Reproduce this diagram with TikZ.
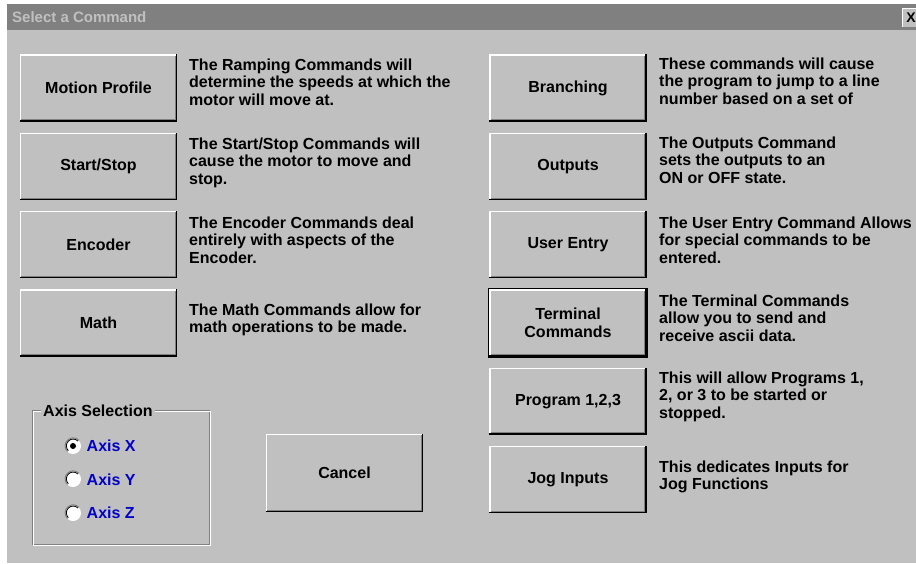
\documentclass[tikz,border=0pt]{standalone}
\usepackage{fontspec}
\setmainfont{Liberation Sans}

\definecolor{winface}{HTML}{C0C0C0}
\definecolor{winshadow}{HTML}{808080}
\definecolor{axisblue}{HTML}{0000C8}

\tikzset{
  btn/.style={fill=winface, minimum width=157pt, minimum height=67pt, inner sep=0pt,
    align=center, font=\fontsize{16}{18}\selectfont\bfseries},
  desc/.style={anchor=base west, inner sep=0pt, align=left,
    font=\fontsize{16}{17.5}\selectfont\bfseries},
  radio/.style={circle, fill=white, minimum size=16pt, inner sep=0pt},
  axislabel/.style={anchor=base west, inner sep=0pt, text=axisblue,
    font=\fontsize{16}{18}\selectfont\bfseries},
}

\begin{document}
\begin{tikzpicture}[x=1pt,y=-1pt,node distance=78.3pt]
    \useasboundingbox (0,0) rectangle (916,563);
    %% window
    \fill[white] (0,0) rectangle (916,563);
    \fill[winface] (7,4) rectangle (916,563);
    \fill[winshadow] (7,4) rectangle (916,30);
    \node[anchor=base west, inner sep=0pt, text=winface, font=\fontsize{15}{18}\selectfont\bfseries] (title) at (12,22) {Select a Command};
    \fill[winface] (902,8) rectangle (920,27);
    \draw[white] (902.5,27) -- (902.5,8.5) -- (920,8.5);
    \node[inner sep=0pt, font=\fontsize{14}{16}\selectfont\bfseries] (close) at (911,18) {X};

    %% left column
    \node[btn] (1) at (98.5,88) {Motion Profile};
    \node[btn,below of=1] (2) {Start/Stop};
    \node[btn,below of=2] (3) {Encoder};
    \node[btn,below of=3] (4) {Math};
    %% right column
    \node[btn] (5) at (568,88) {Branching};
    \node[btn,below of=5] (6) {Outputs};
    \node[btn,below of=6] (7) {User Entry};
    \node[btn,below of=7] (8) {Terminal\\Commands};
    \node[btn,below of=8] (9) {Program 1,2,3};
    \node[btn,below of=9] (10) {Jog Inputs};
    \node[btn,minimum height=78pt] (11) at (344.5,473) {Cancel};

    %% 3d edges
    \foreach \n in {1,...,11} {
      \draw[white, line width=1.5pt] ([xshift=.75pt]\n.south west) |- ([yshift=-.75pt]\n.north east);
      \draw[winshadow, line width=1pt] ([shift={(1.5pt,2pt)}]\n.south west) -| ([shift={(-2pt,-1.5pt)}]\n.north east);
      \draw[black, line width=1.5pt] ([yshift=.75pt]\n.south west) -| ([xshift=-.75pt]\n.north east);
    }
    %% default button
    \draw[black, line width=1pt] ([shift={(-.5pt,-.5pt)}]8.south west) rectangle ([shift={(.5pt,.5pt)}]8.north east);

    %% descriptions (base = last line)
    \node[desc] (d1) at (189,105) {The Ramping Commands will\\determine the speeds at which the\\motor will move at.};
    \node[desc] (d2) at (189,184) {The Start/Stop Commands will\\cause the motor to move and\\stop.};
    \node[desc] (d3) at (189,263) {The Encoder Commands deal\\entirely with aspects of the\\Encoder.};
    \node[desc] (d4) at (189,332.5) {The Math Commands allow for\\math operations to be made.};
    \node[desc] (d5) at (659,104) {These commands will cause\\the program to jump to a line\\number based on a set of};
    \node[desc] (d6) at (659,183) {The Outputs Command\\sets the outputs to an\\ON or OFF state.};
    \node[desc] (d7) at (659,263) {The User Entry Command Allows\\for special commands to be\\entered.};
    \node[desc] (d8) at (659,341) {The Terminal Commands\\allow you to send and\\receive ascii data.};
    \node[desc] (d9) at (659,418) {This will allow Programs 1,\\2, or 3 to be started or\\stopped.};
    \node[desc] (d10) at (659,489.5) {This dedicates Inputs for\\Jog Functions};

    %% axis selection
    \draw[winshadow] (32,410) rectangle (209,544);
    \draw[white] (33,411) rectangle (210,545);
    \node[anchor=base west, fill=winface, inner xsep=2pt, inner ysep=1pt, font=\fontsize{16}{18}\selectfont\bfseries] (axis) at (41,416) {Axis Selection};
    \node[radio] (rx) at (73,446) {};
    \node[radio] (ry) at (73,479) {};
    \node[radio] (rz) at (73,513) {};
    \foreach \r in {rx,ry,rz} {
      \draw[winshadow, line width=1pt] (\r.45) arc[start angle=45, end angle=225, radius=8pt];
      \draw[black, line width=.8pt] ([shift={(225:1.2pt)}]\r.45) arc[start angle=45, end angle=225, radius=6.8pt];
    }
    \fill[black] (rx) circle (3pt);
    \node[axislabel] (lx) at (86.5,451.5) {Axis X};
    \node[axislabel] (ly) at (86.5,485) {Axis Y};
    \node[axislabel] (lz) at (86.5,518.5) {Axis Z};
  \end{tikzpicture}
\end{document}
